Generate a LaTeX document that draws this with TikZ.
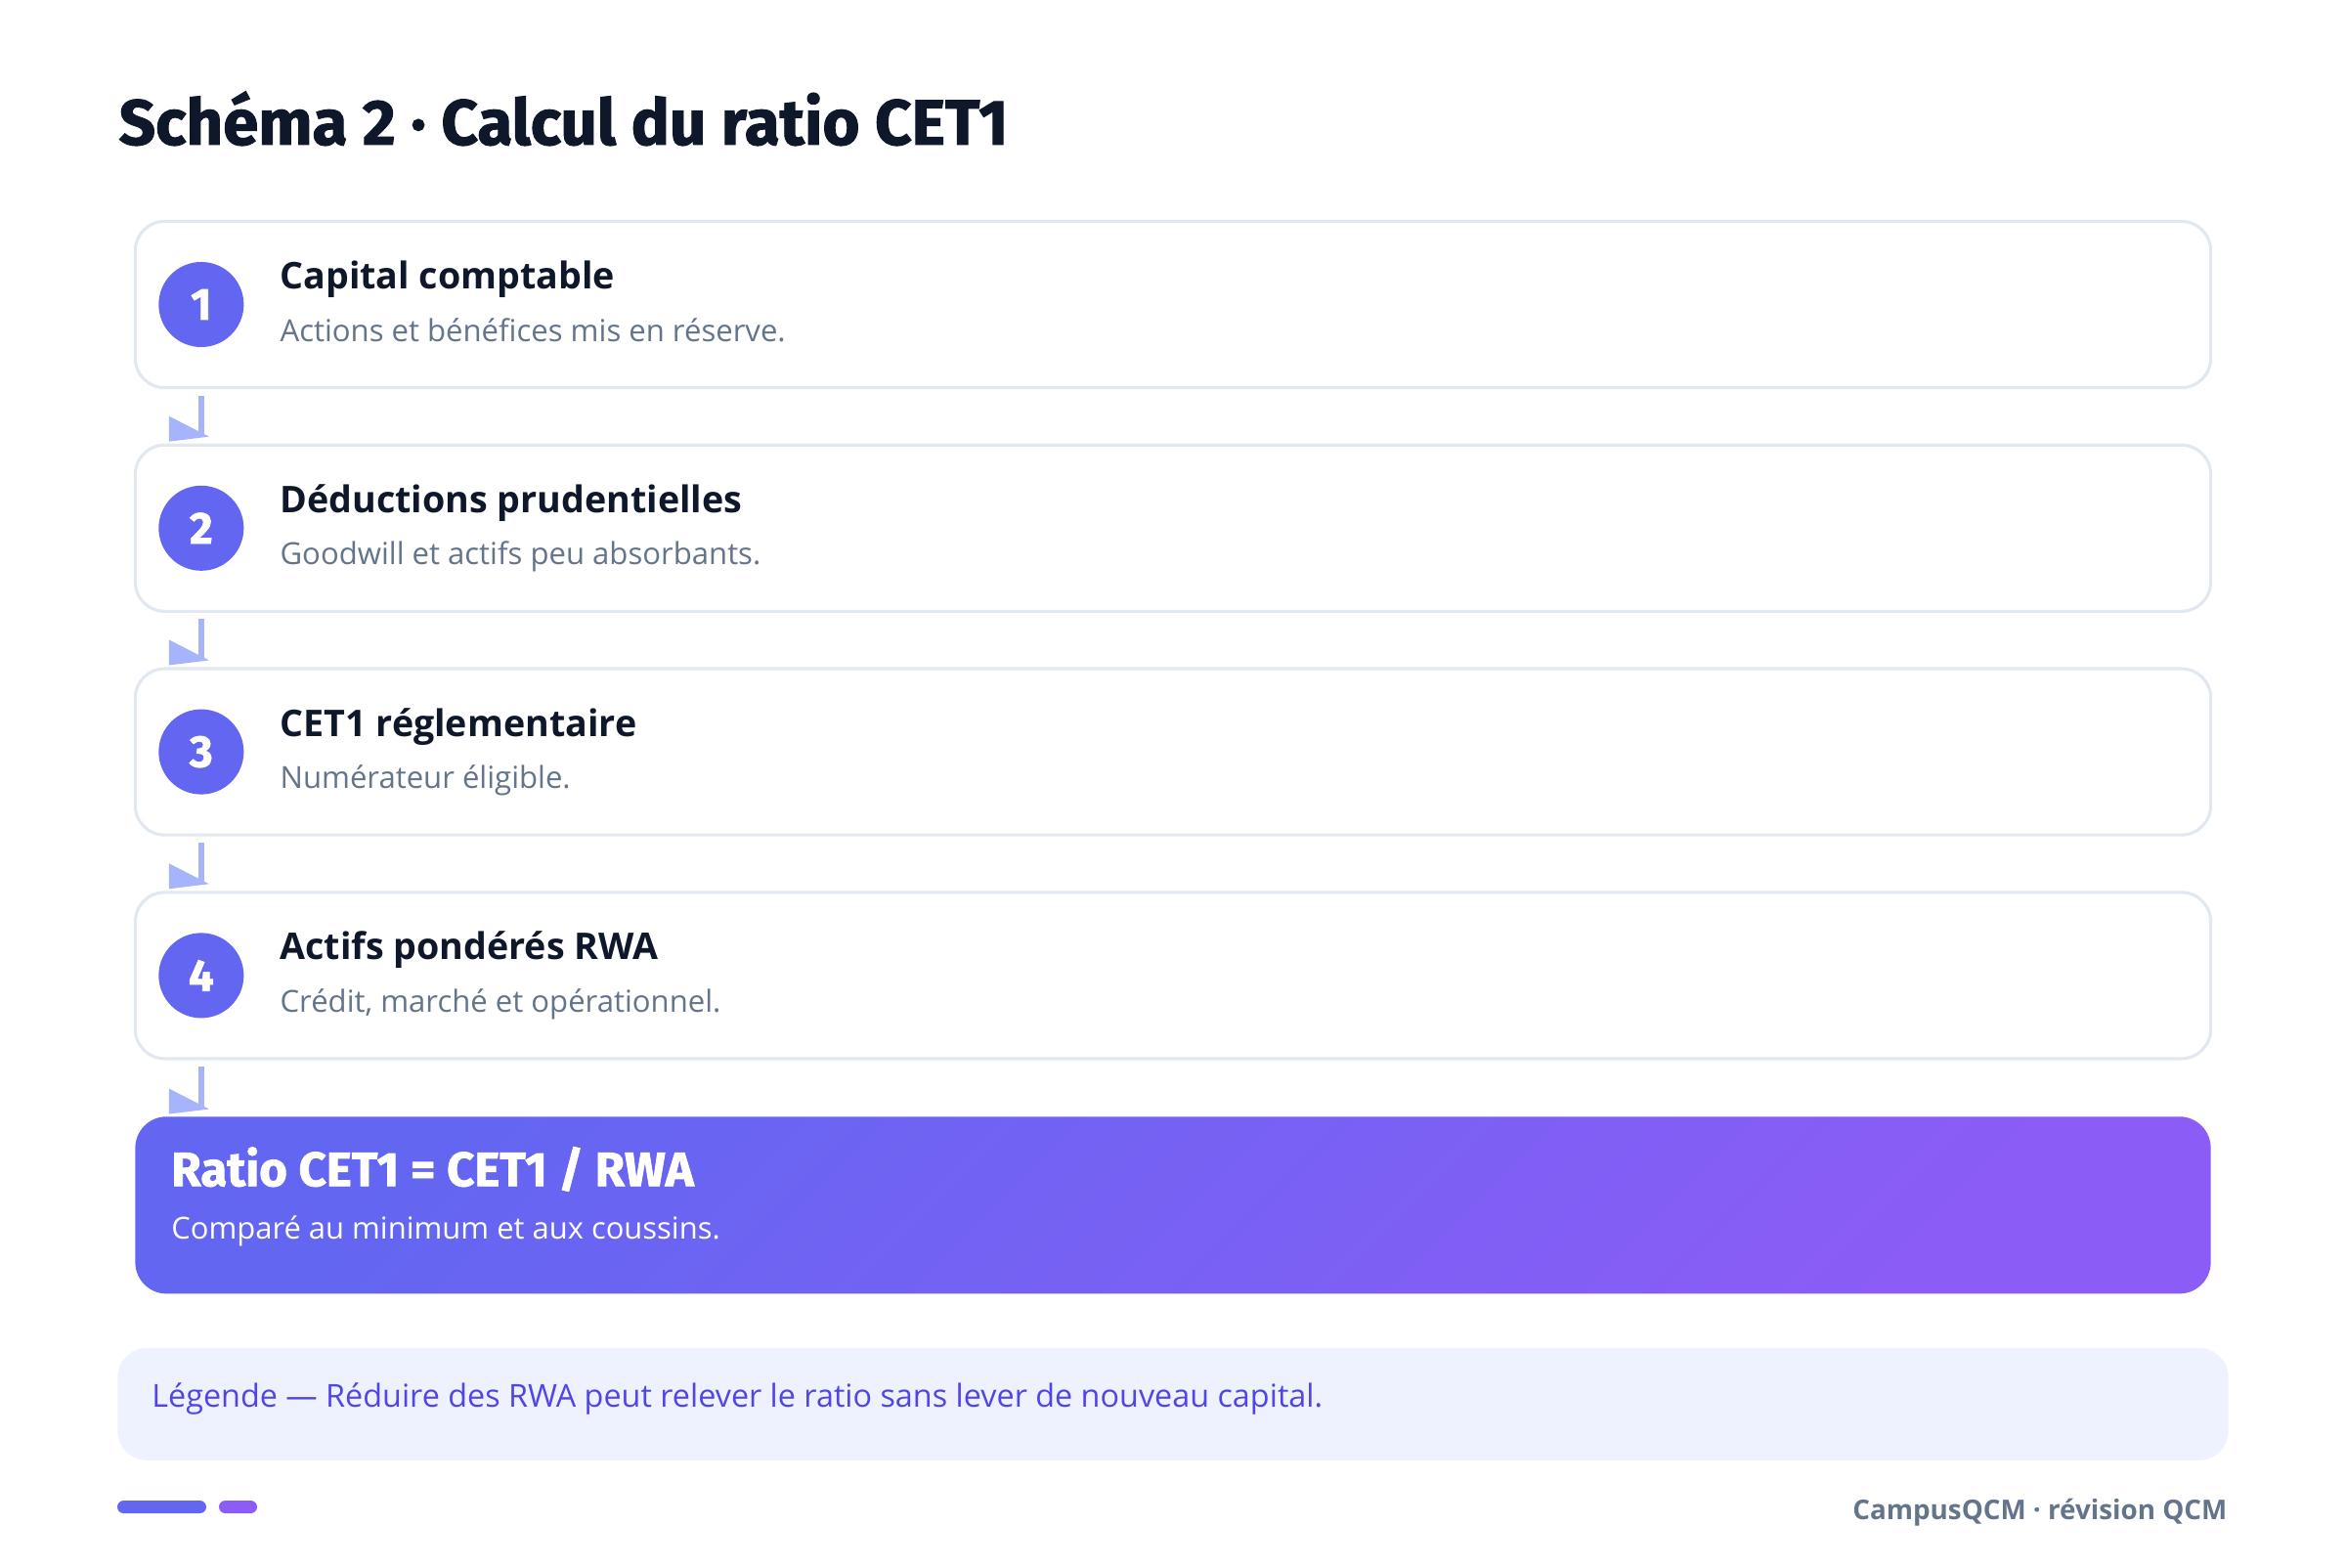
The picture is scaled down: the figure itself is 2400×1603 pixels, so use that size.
\documentclass[tikz,border=0pt]{standalone}
\usepackage{fontspec}
\setmainfont{Open Sans}
\newfontfamily\headfont{Fira Sans}[BoldFeatures={FakeBold=1.5}]
\usetikzlibrary{positioning}

\definecolor{ink}{HTML}{0F172A}
\definecolor{slate}{HTML}{64748B}
\definecolor{cardline}{HTML}{E2E8F0}
\definecolor{indigo}{HTML}{6366F1}
\definecolor{violet}{HTML}{8B5CF6}
\definecolor{flow}{HTML}{A5B4FC}
\definecolor{legendbg}{HTML}{EEF2FF}
\definecolor{legendink}{HTML}{4F46E5}

\tikzset{
  card/.style={draw=cardline, line width=0.9pt, fill=white,
    rounded corners=0.3cm, minimum width=21.22cm, minimum height=1.70cm,
    inner sep=0pt},
  ratiobox/.style={rounded corners=0.32cm, left color=indigo,
    right color=violet, shading angle=45, minimum width=21.22cm,
    minimum height=1.81cm, inner sep=0pt},
  legendbox/.style={fill=legendbg, rounded corners=0.3cm,
    minimum width=21.58cm, minimum height=1.15cm, inner sep=0pt},
  numdot/.style={circle, fill=indigo, minimum size=0.87cm, inner sep=0pt,
    text=white, font=\headfont\bfseries\fontsize{13}{13}\selectfont},
  cardtitle/.style={anchor=base west, inner sep=0pt, text=ink,
    font=\bfseries\fontsize{10.7}{12}\selectfont},
  cardnote/.style={anchor=base west, inner sep=0pt, text=slate,
    font=\fontsize{8.84}{10}\selectfont},
  ratiotitle/.style={anchor=base west, inner sep=0pt, text=white,
    font=\headfont\bfseries\fontsize{14}{16}\selectfont},
  rationote/.style={anchor=base west, inner sep=0pt, text=white,
    font=\fontsize{8.8}{10}\selectfont},
  flowline/.style={draw=flow, line width=1.7pt, shorten <=0.065cm,
    shorten >=0.08cm},
}

\begin{document}
\begin{tikzpicture}[x=0.01cm,y=-0.01cm,node distance=0.555cm]
  \useasboundingbox (0,0) rectangle (2400,1603);
  % title
  \node[anchor=base west, inner sep=0pt, text=ink,
    font=\headfont\bfseries\fontsize{18.6}{20}\selectfont] (title) at (121,148)
    {Schéma 2 · Calcul du ratio CET1};

  % the five steps
  \node[card] (card1) at (1200,311.5) {};
  \node[card, below=of card1] (card2) {};
  \node[card, below=of card2] (card3) {};
  \node[card, below=of card3] (card4) {};
  \node[ratiobox, below=0.57cm of card4] (ratio) {};
  \node[legendbox, below=0.54cm of ratio] (legend) {};

  \node[numdot] (n1) at ([xshift=0.69cm]card1.west) {1};
  \node[cardtitle] (t1) at ([xshift=1.49cm,yshift=0.16cm]card1.west) {Capital comptable};
  \node[cardnote] (s1) at ([xshift=1.49cm,yshift=-0.375cm]card1.west) {Actions et bénéfices mis en réserve.};

  \node[numdot] (n2) at ([xshift=0.69cm]card2.west) {2};
  \node[cardtitle] (t2) at ([xshift=1.49cm,yshift=0.16cm]card2.west) {Déductions prudentielles};
  \node[cardnote] (s2) at ([xshift=1.49cm,yshift=-0.375cm]card2.west) {Goodwill et actifs peu absorbants.};

  \node[numdot] (n3) at ([xshift=0.69cm]card3.west) {3};
  \node[cardtitle] (t3) at ([xshift=1.49cm,yshift=0.16cm]card3.west) {CET1 réglementaire};
  \node[cardnote] (s3) at ([xshift=1.49cm,yshift=-0.375cm]card3.west) {Numérateur éligible.};

  \node[numdot] (n4) at ([xshift=0.69cm]card4.west) {4};
  \node[cardtitle] (t4) at ([xshift=1.49cm,yshift=0.16cm]card4.west) {Actifs pondérés RWA};
  \node[cardnote] (s4) at ([xshift=1.49cm,yshift=-0.375cm]card4.west) {Crédit, marché et opérationnel.};

  \node[ratiotitle] (rt) at ([xshift=0.37cm,yshift=0.195cm]ratio.west) {Ratio CET1 = CET1 / RWA};
  \node[rationote] (rs) at ([xshift=0.37cm,yshift=-0.345cm]ratio.west) {Comparé au minimum et aux coussins.};

  % connectors
  \draw[flowline] (n1 |- card1.south) -- (n1 |- card2.north);
  \fill[flow] (n1 |- card2.north) ++(-0.33cm,0.28cm) -- ++(0,-0.26cm) -- ++(0.41cm,0.05cm) -- cycle;
  \draw[flowline] (n2 |- card2.south) -- (n2 |- card3.north);
  \fill[flow] (n2 |- card3.north) ++(-0.33cm,0.28cm) -- ++(0,-0.26cm) -- ++(0.41cm,0.05cm) -- cycle;
  \draw[flowline] (n3 |- card3.south) -- (n3 |- card4.north);
  \fill[flow] (n3 |- card4.north) ++(-0.33cm,0.28cm) -- ++(0,-0.26cm) -- ++(0.41cm,0.05cm) -- cycle;
  \draw[flowline] (n4 |- card4.south) -- (n4 |- ratio.north);
  \fill[flow] (n4 |- ratio.north) ++(-0.33cm,0.28cm) -- ++(0,-0.26cm) -- ++(0.41cm,0.05cm) -- cycle;

  % legend and footer
  \node[anchor=base west, inner sep=0pt, text=legendink,
    font=\fontsize{9.2}{11}\selectfont] (lt) at ([xshift=0.35cm,yshift=-0.03cm]legend.west)
    {Légende — Réduire des RWA peut relever le ratio sans lever de nouveau capital.};
  \fill[indigo, rounded corners=0.065cm] (120,1535) rectangle (211,1548);
  \fill[violet, rounded corners=0.065cm] (224,1535) rectangle (263,1548);
  \node[anchor=base east, inner sep=0pt, text=slate,
    font=\bfseries\fontsize{7.9}{10}\selectfont] (foot) at (2279,1554)
    {CampusQCM · révision QCM};
\end{tikzpicture}
\end{document}
